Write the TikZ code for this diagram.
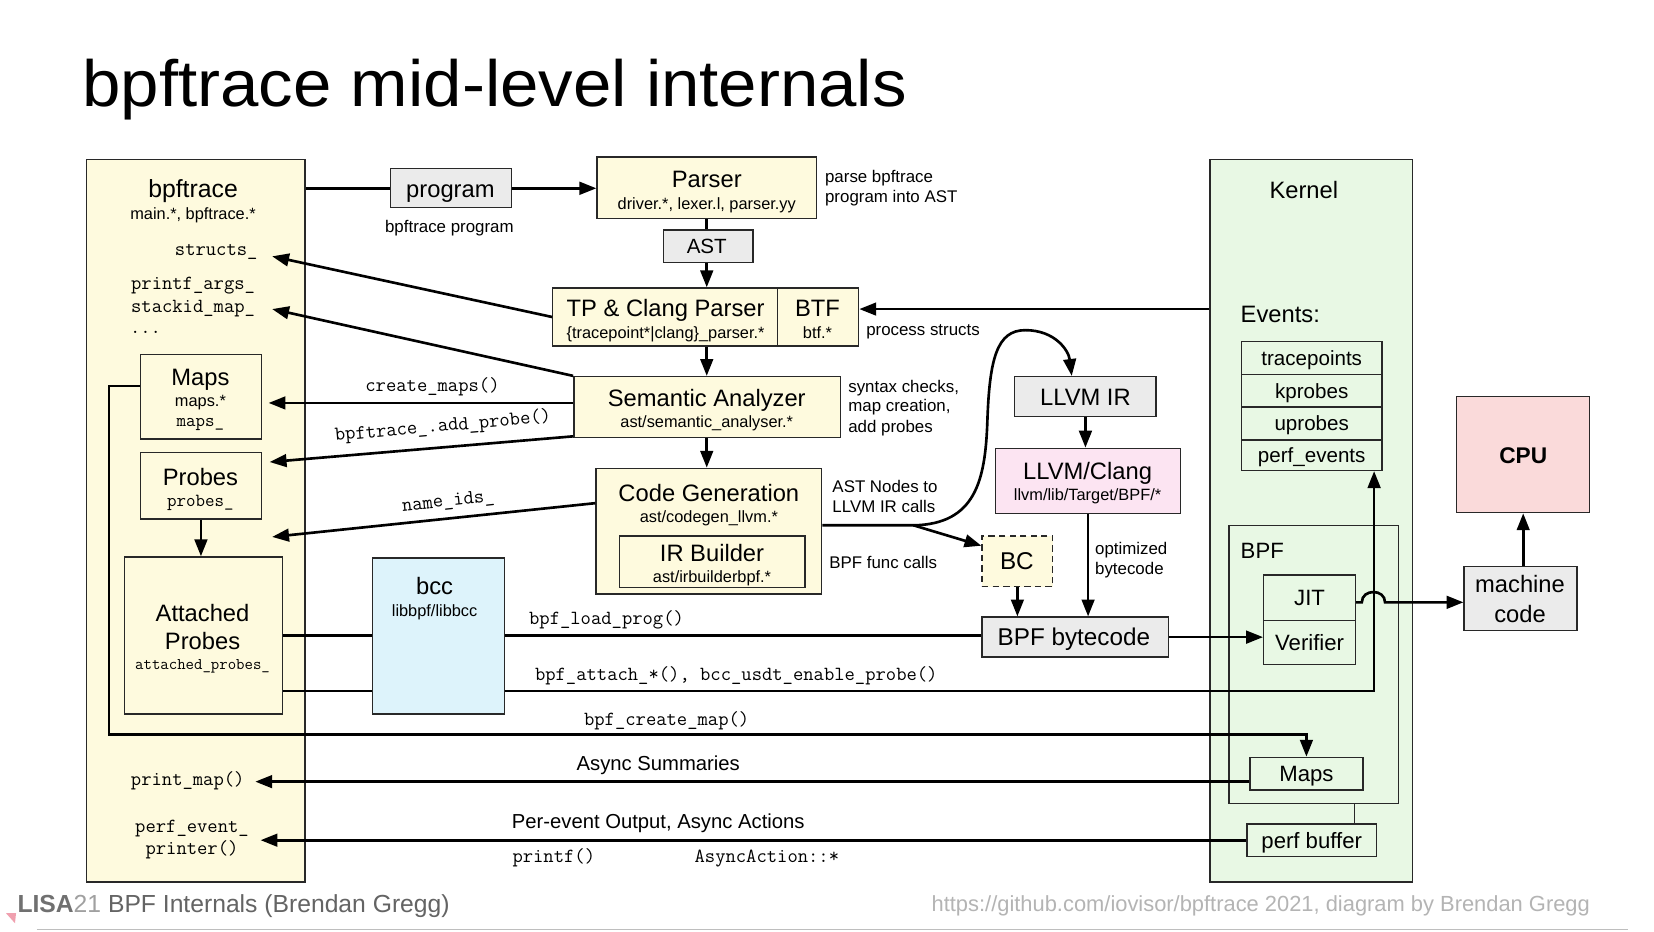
\documentclass[tikz,border=0pt]{standalone}
\usepackage{fontspec}
\usepackage{graphicx}
\setmainfont{Liberation Sans}
\usetikzlibrary{arrows.meta,calc}
\definecolor{cream}{RGB}{254,250,222}
\definecolor{greyb}{RGB}{235,235,235}
\definecolor{blueb}{RGB}{221,243,251}
\definecolor{pinkb}{RGB}{252,228,242}
\definecolor{cpub}{RGB}{250,218,218}
\definecolor{greenb}{RGB}{232,248,228}
\definecolor{boxedge}{RGB}{40,40,40}
\definecolor{lisac}{RGB}{112,112,112}
\definecolor{lisatwo}{RGB}{160,160,160}
\definecolor{footc}{RGB}{100,100,100}
\definecolor{urlc}{RGB}{180,180,180}
\definecolor{linec}{RGB}{190,190,190}
\definecolor{pinktri}{RGB}{240,160,175}
\begin{document}
\begin{tikzpicture}[x=1pt,y=-1pt,
  box/.style={draw=boxedge,line width=1.3pt,inner sep=0pt,rectangle},
  conn/.style={line width=2.5pt,draw=black},
  arr/.style={-{Triangle[length=16pt,width=12pt]}},
  big/.style={font=\fontsize{22.5}{26}\selectfont,inner sep=0pt,text height=16pt,text depth=0pt},
  sub/.style={font=\fontsize{15.5}{18}\selectfont,inner sep=0pt,text height=11pt,text depth=0pt},
  ann/.style={font=\fontsize{16}{19}\selectfont,inner sep=0pt,text height=11.5pt,text depth=0pt,anchor=west},
  code/.style={font=\ttfamily\fontsize{19}{22}\selectfont,inner sep=0pt,text height=8pt,text depth=0pt},
  codes/.style={font=\ttfamily\fontsize{17.5}{20}\selectfont,inner sep=0pt,text height=7.5pt,text depth=0pt},
  codet/.style={font=\ttfamily\fontsize{15.5}{18}\selectfont,inner sep=0pt,text height=6.5pt,text depth=0pt},
  evt/.style={font=\fontsize{19.5}{22}\selectfont,inner sep=0pt,text height=14pt,text depth=0pt},
  kin/.style={font=\fontsize{21}{24}\selectfont,inner sep=0pt,text height=15pt,text depth=0pt},
  asy/.style={font=\fontsize{19.2}{22}\selectfont,inner sep=0pt,text height=13.7pt,text depth=0pt}
]
\fill[white] (0,0) rectangle (1568,882.6);
\useasboundingbox (0,0) rectangle (1568,882.6);

% title
\node[anchor=base west,inner sep=0pt,font=\fontsize{62}{70}\selectfont] (title) at (78,100.5) {\scalebox{1.055}[1]{bpftrace mid-level internals}};

% big containers
\node[box,fill=cream,minimum width=207pt,minimum height=685pt] (bpt) at (185.5,493.5) {};
\node[box,fill=greenb,minimum width=192pt,minimum height=685pt] (kernel) at (1243,493.5) {};
\node[box,fill=greenb,minimum width=161pt,minimum height=264pt] (bpf) at (1245.5,630) {};

% boxes
\node[box,fill=cream,minimum width=115pt,minimum height=80pt] (maps) at (190.5,376) {};
\node[box,fill=cream,minimum width=115pt,minimum height=63pt] (probes) at (190.5,460.5) {};
\node[box,fill=cream,minimum width=150pt,minimum height=149pt] (attached) at (193,602.5) {};
\node[box,fill=blueb,minimum width=125pt,minimum height=148pt] (bcc) at (415.5,603) {};
\node[box,fill=greyb,minimum width=115pt,minimum height=37pt] (program) at (427.5,178.5) {};
\node[box,fill=cream,minimum width=208pt,minimum height=58pt] (parser) at (670,178) {};
\node[box,fill=greyb,minimum width=85pt,minimum height=31pt] (ast) at (671.5,233.5) {};
\node[box,fill=cream,minimum width=213pt,minimum height=55pt] (tp) at (630.5,300.5) {};
\node[box,fill=cream,minimum width=77pt,minimum height=55pt] (btf) at (775.5,300.5) {};
\node[box,fill=cream,minimum width=253pt,minimum height=58pt] (sem) at (670.5,386) {};
\node[box,fill=cream,minimum width=214pt,minimum height=119pt] (cg) at (672,503.5) {};
\node[box,fill=cream,minimum width=176pt,minimum height=49pt] (irb) at (675,532.5) {};
\node[box,fill=greyb,minimum width=134pt,minimum height=38pt] (llvmir) at (1029,376) {};
\node[box,fill=pinkb,minimum width=175pt,minimum height=62pt] (clang) at (1031.5,456) {};
\node[box,fill=cream,dash pattern=on 6pt off 4pt,minimum width=67pt,minimum height=48pt] (bc) at (964.5,532) {};
\node[box,fill=greyb,minimum width=177pt,minimum height=38pt] (bytecode) at (1019.5,604) {};
\node[box,fill=greenb,minimum width=133pt,minimum height=31pt] (ev1) at (1243.5,339.5) {};
\node[box,fill=greenb,minimum width=133pt,minimum height=31pt] (ev2) at (1243.5,370.5) {};
\node[box,fill=greenb,minimum width=133pt,minimum height=31pt] (ev3) at (1243.5,401.5) {};
\node[box,fill=greenb,minimum width=133pt,minimum height=29pt] (ev4) at (1243.5,431.5) {};
\node[box,fill=greenb,minimum width=87pt,minimum height=43pt] (jit) at (1241.5,566.5) {};
\node[box,fill=greenb,minimum width=87pt,minimum height=42pt] (verifier) at (1241.5,609) {};
\node[box,fill=greenb,minimum width=107pt,minimum height=31pt] (kmaps) at (1238.5,733.5) {};
\node[box,fill=greenb,minimum width=123pt,minimum height=31pt] (perfbuf) at (1243.5,796.5) {};
\node[box,fill=greyb,minimum width=107pt,minimum height=61pt] (mcode) at (1441.5,567.5) {};
\node[box,fill=cpub,minimum width=126pt,minimum height=110pt] (cpu) at (1444,431) {};

% texts
\node[big,font=\fontsize{23.5}{26}\selectfont] (tbpt) at (183,179) {bpftrace};
\node[sub] (tbpt2) at (183,203) {main.*, bpftrace.*};
\node[code] (tstructs) at (205,238) {structs\_};
\node[code] (tpargs) at (183,270) {printf\_args\_};
\node[code] (tstack) at (183,292) {stackid\_map\_};
\node[code] (tdots) at (138,312) {...};
\node[big] (tmaps) at (190,357) {Maps};
\node[sub] (tmaps2) at (190,380) {maps.*};
\node[codes] (tmaps3) at (190,401) {maps\_};
\node[big] (tprobes) at (190,452) {Probes};
\node[codes] (tprobes2) at (190,476) {probes\_};
\node[big] (tatt1) at (192,581) {Attached};
\node[big] (tatt2) at (192,608) {Probes};
\node[codet] (tatt3) at (192,631) {attached\_probes\_};
\node[big] (tbcc) at (412,556) {bcc};
\node[sub] (tbcc2) at (412,579) {libbpf/libbcc};
\node[big] (tprog) at (427,179) {program};
\node[sub,font=\fontsize{16}{19}\selectfont] (tprog2) at (426,215) {bpftrace program};
\node[big] (tparser) at (670,170) {Parser};
\node[sub] (tparser2) at (670,193) {driver.*, lexer.l, parser.yy};
\node[ann] (ap1) at (782,167) {parse bpftrace};
\node[ann] (ap2) at (782,186) {program into AST};
\node[big,font=\fontsize{19.5}{22}\selectfont,text height=14pt] (tast) at (670,233) {AST};
\node[big] (ttp) at (631,292) {TP \& Clang Parser};
\node[sub] (ttp2) at (631,315) {\{tracepoint*|clang\}\_parser.*};
\node[big] (tbtf) at (775,292) {BTF};
\node[sub] (tbtf2) at (775,315) {btf.*};
\node[ann] (aps) at (821,312) {process structs};
\node[big] (tsem) at (670,377) {Semantic Analyzer};
\node[sub] (tsem2) at (670,400) {ast/semantic\_analyser.*};
\node[ann] (as1) at (804,366) {syntax checks,};
\node[ann] (as2) at (804,384) {map creation,};
\node[ann] (as3) at (804,404) {add probes};
\node[code] (tcm) at (410,367) {create\_maps()};
\node[code,rotate=5] (tap) at (420,405) {bpftrace\_.add\_probe()};
\node[code,rotate=6] (tni) at (425,476) {name\_ids\_};
\node[big] (tcg) at (672,467) {Code Generation};
\node[sub] (tcg2) at (672,490) {ast/codegen\_llvm.*};
\node[big] (tirb) at (675,524) {IR Builder};
\node[sub] (tirb2) at (675,547) {ast/irbuilderbpf.*};
\node[ann] (an1) at (789,461) {AST Nodes to};
\node[ann] (an2) at (789,480) {LLVM IR calls};
\node[ann] (an3) at (786,533) {BPF func calls};
\node[big] (tllvmir) at (1029,376) {LLVM IR};
\node[big] (tclang) at (1031,447) {LLVM/Clang};
\node[sub] (tclang2) at (1031,469) {llvm/lib/Target/BPF/*};
\node[ann] (ao1) at (1038,520) {optimized};
\node[ann] (ao2) at (1038,539) {bytecode};
\node[big,font=\fontsize{23}{26}\selectfont] (tbc) at (964,532) {BC};
\node[big,font=\fontsize{23}{26}\selectfont] (tbytecode) at (1018,604) {BPF bytecode};
\node[code] (tload) at (575,588) {bpf\_load\_prog()};
\node[code] (tattach) at (698,641) {bpf\_attach\_*(), bcc\_usdt\_enable\_probe()};
\node[code] (tcmap) at (632,684) {bpf\_create\_map()};
\node[asy] (tasync) at (624,724) {Async Summaries};
\node[code] (tpm) at (178,741) {print\_map()};
\node[asy] (tper) at (624,779) {Per-event Output, Async Actions};
\node[code] (tprintf) at (525,814) {printf()};
\node[code] (taa) at (727,814) {AsyncAction::*};
\node[code] (tpe1) at (182,785) {perf\_event\_};
\node[code] (tpe2) at (182,806) {printer()};
\node[big] (tkernel) at (1236,180) {Kernel};
\node[big,anchor=west] (tevents) at (1176,298) {Events:};
\node[evt] (tev1) at (ev1) {tracepoints};
\node[evt] (tev2) at (ev2) {kprobes};
\node[evt] (tev3) at (ev3) {uprobes};
\node[evt] (tev4) at (ev4) {perf\_events};
\node[kin,anchor=west] (tbpf) at (1176,522) {BPF};
\node[kin] (tjit) at (jit) {JIT};
\node[kin] (tver) at (verifier) {Verifier};
\node[kin] (tkm) at (kmaps) {Maps};
\node[kin] (tpb) at (perfbuf) {perf buffer};
\node[big] (tmc1) at (1441,554) {machine};
\node[big] (tmc2) at (1441,582) {code};
\node[big,font=\bfseries\fontsize{21.5}{24}\selectfont] (tcpu) at (cpu) {CPU};

% connectors
\draw[conn] (bpt.east |- program.west) -- (program.west);
\draw[conn,arr] (program.east) -- (program.east -| parser.west);
\draw[conn] (parser.south) -- (parser.south |- ast.north);
\draw[conn,arr] (parser.south |- ast.south) -- (parser.south |- tp.north);
\draw[conn,arr] (parser.south |- tp.south) -- (parser.south |- sem.north);
\draw[conn,arr] (parser.south |- sem.south) -- (parser.south |- cg.north);
\coordinate (bt1) at ($(btf.east)+(0,-7.5)$);
\draw[conn,arr] (bt1 -| kernel.west) -- (bt1);
\coordinate (sE) at (258,243);
\draw[conn,arr] (tp.west) -- (sE);
\coordinate (sdE) at (258,293);
\draw[conn,arr] (sem.north west) -- (sdE);
\coordinate (cm0) at ($(sem.west)+(0,-4)$);
\draw[conn,arr,shorten >=6pt] (cm0) -- (cm0 -| maps.east);
\coordinate (ap0) at ($(sem.south west)+(0,-2)$);
\coordinate (apE) at ($(probes.east)+(7,-22.5)$);
\draw[conn,arr] (ap0) -- (apE);
\coordinate (ni0) at ($(cg.west)+(0,-26.5)$);
\coordinate (niE) at (258,509);
\draw[conn,arr] (ni0) -- (niE);
\draw[conn,arr] (probes.south) -- (probes.south |- attached.north);
\draw[conn] (attached.east) -- (attached.east -| bcc.west);
\draw[conn] (attached.east -| bcc.east) -- (attached.east -| bytecode.west);
\coordinate (at2) at ($(attached.east)+(0,52.5)$);
\coordinate (evx) at ($(ev4.south east)+(-8,0)$);
\draw[conn] (at2) -- (at2 -| bcc.west);
\draw[conn,arr] (at2 -| bcc.east) -- (at2 -| evx) -- (evx);
\coordinate (cm1) at ($(maps.west)+(0,-10)$);
\coordinate (km0) at ($(kmaps.north)+(0,-21)$);
\draw[conn,arr] (cm1) -- ++(-29,0) |- (km0) -- (kmaps.north);
\coordinate (as0) at ($(kmaps.west)+(0,7.5)$);
\draw[conn,arr,shorten >=10pt] (as0) -- (as0 -| tpm.east);
\draw[conn,arr,shorten >=11pt] (perfbuf.west) -- (perfbuf.west -| tpe1.east);
\draw[conn,arr] (bytecode.east) -- (bytecode.east -| verifier.west);
\coordinate (j0) at ($(jit.east)+(0,4.5)$);
\draw[conn,arr] (j0) -- (1291,571) .. controls (1291,558) and (1313,558) .. (1313,571) -- (j0 -| mcode.west);
\draw[conn,arr] (cpu.south |- mcode.north) -- (cpu.south);
\draw[conn,arr] (llvmir.south) -- (llvmir.south |- clang.north);
\draw[conn,arr] (clang.south) -- (clang.south |- bytecode.north);
\draw[conn,arr] (bc.south) -- (bc.south |- bytecode.north);
\coordinate (pb0) at ($(bpf.south)+(38.5,0)$);
\draw[draw=boxedge,line width=1.3pt] (pb0) -- (pb0 |- perfbuf.north);
\coordinate (c0) at ($(cg.east)+(0,-5.5)$);
\coordinate (cb) at (866,498);
\coordinate (llE) at ($(llvmir.north)+(-13,0)$);
\draw[conn,arr] (c0) -- (cb) .. controls (925,497) and (934,455) .. (936,400) .. controls (938,340) and (945,313) .. (972,313) .. controls (1000,313) and (1013,332) .. (llE);
\draw[conn,arr] (cb) -- ($(bc.north west)+(0,10)$);

% footer
\fill[pinktri] (5.7,865.7) -- (15.2,865.7) -- (14.2,875.2) -- cycle;
\node[anchor=base west,inner sep=0pt,font=\fontsize{23.4}{26}\selectfont] (lisa) at (16.4,864.8) {\textcolor{lisac}{\textbf{LISA}}\textcolor{lisatwo}{21} \textcolor{footc}{BPF Internals (Brendan Gregg)}};
\node[anchor=base west,inner sep=0pt,font=\fontsize{20.75}{24}\selectfont,text=urlc] (url) at (883,864.1) {https://github.com/iovisor/bpftrace 2021, diagram by Brendan Gregg};
\draw[line width=1pt,draw=linec] (35,881) -- (1543,881);
\end{tikzpicture}
\end{document}
